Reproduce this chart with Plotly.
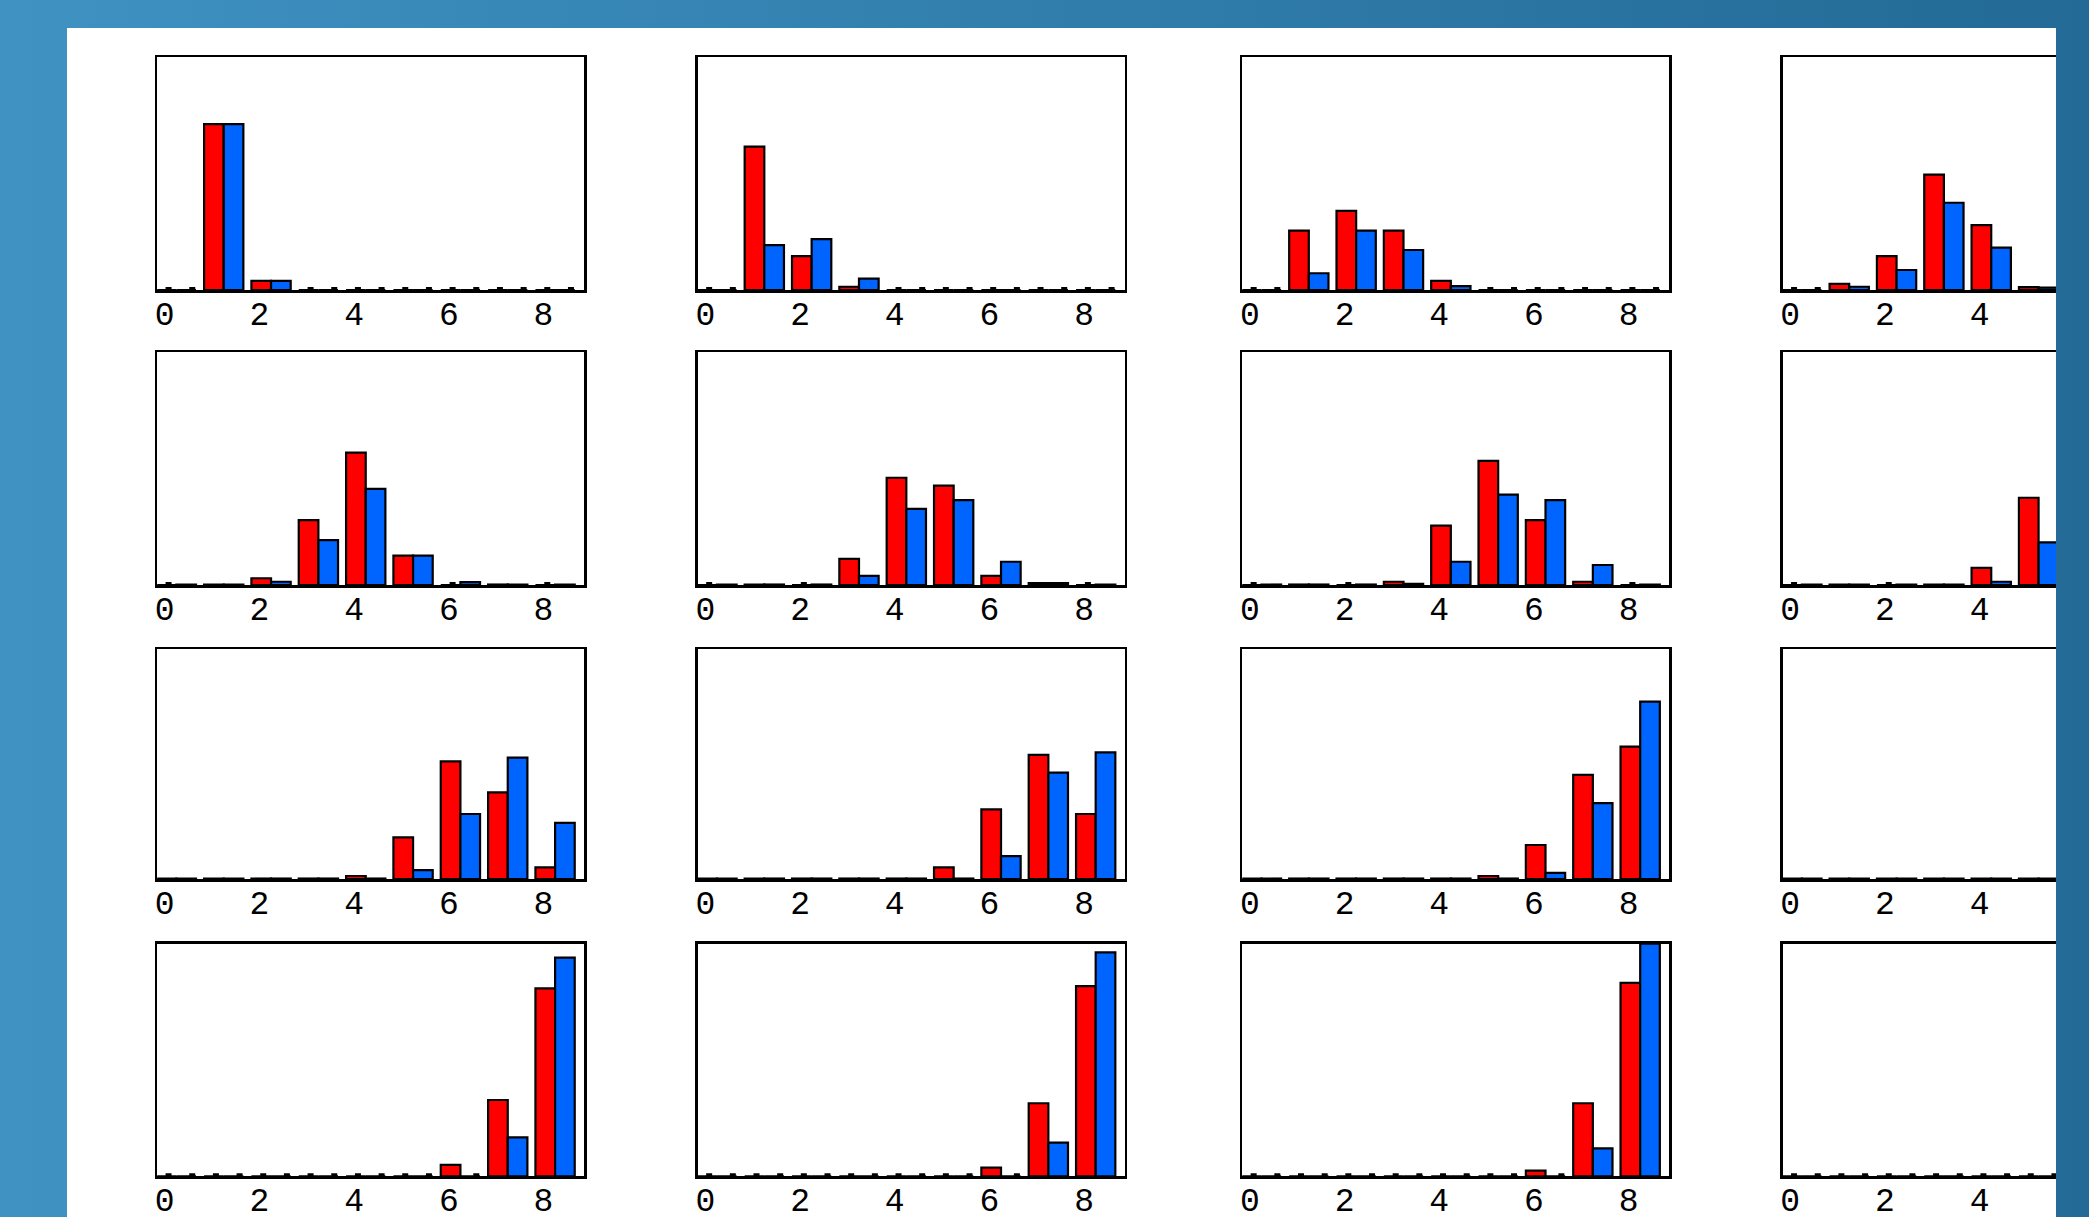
import base64
import plotly.graph_objects as go

# ---------------- data ----------------
bins = [0, 1, 2, 3, 4, 5, 6, 7, 8]
tick_vals = [0, 2, 4, 6, 8]
tick_text = ["0", "2", "4", "6", "8"]
N = None  # bins outside the visible (clipped) area

# row 1
red_11 = [0, 0.713, 0.039, 0, 0, 0, 0, 0, 0]
blue_11 = [0, 0.713, 0.039, 0, 0, 0, 0, 0, 0]
red_12 = [0, 0.616, 0.146, 0.014, 0, 0, 0, 0, 0]
blue_12 = [0, 0.193, 0.219, 0.049, 0, 0, 0, 0, 0]
red_13 = [0, 0.255, 0.340, 0.255, 0.039, 0, 0, 0, 0]
blue_13 = [0, 0.072, 0.255, 0.172, 0.017, 0, 0, 0, 0]
red_14 = [0, 0.026, 0.146, 0.496, 0.279, 0.012, N, N, N]
blue_14 = [0, 0.014, 0.086, 0.375, 0.182, 0.010, N, N, N]
# row 2
red_21 = [0, 0.002, 0.029, 0.279, 0.569, 0.126, 0, 0.002, 0]
blue_21 = [0.002, 0.002, 0.014, 0.193, 0.413, 0.126, 0.012, 0.002, 0.002]
red_22 = [0, 0.002, 0, 0.112, 0.461, 0.427, 0.039, 0.008, 0]
blue_22 = [0.002, 0.002, 0.002, 0.039, 0.327, 0.365, 0.100, 0.008, 0.002]
red_23 = [0, 0.002, 0, 0.014, 0.255, 0.533, 0.279, 0.014, 0]
blue_23 = [0.002, 0.002, 0.002, 0.005, 0.100, 0.388, 0.365, 0.086, 0.002]
red_24 = [0, 0.002, 0, 0.002, 0.074, 0.375, N, N, N]
blue_24 = [0.002, 0.002, 0.002, 0.002, 0.014, 0.183, N, N, N]
# row 3
red_31 = [0.002, 0.002, 0.002, 0.002, 0.013, 0.181, 0.512, 0.377, 0.051]
blue_31 = [0.002, 0.002, 0.002, 0.002, 0.002, 0.039, 0.283, 0.528, 0.244]
red_32 = [0.002, 0.002, 0.002, 0.002, 0.002, 0.051, 0.303, 0.540, 0.283]
blue_32 = [0.002, 0.002, 0.002, 0.002, 0.002, 0.002, 0.100, 0.463, 0.551]
red_33 = [0.002, 0.002, 0.002, 0.002, 0.002, 0.013, 0.148, 0.453, 0.576]
blue_33 = [0.002, 0.002, 0.002, 0.002, 0.002, 0.002, 0.027, 0.330, 0.772]
red_34 = [0.002, 0.002, 0.002, 0.002, 0.002, 0.002, N, N, N]
blue_34 = [0.002, 0.002, 0.002, 0.002, 0.002, 0.002, N, N, N]
# row 4
red_41 = [0, 0, 0, 0, 0, 0, 0.049, 0.328, 0.808]
blue_41 = [0, 0, 0, 0, 0, 0, 0, 0.167, 0.940]
red_42 = [0, 0, 0, 0, 0, 0, 0.037, 0.314, 0.818]
blue_42 = [0, 0, 0, 0, 0, 0, 0, 0.145, 0.963]
red_43 = [0, 0, 0, 0, 0, 0, 0.024, 0.314, 0.832]
blue_43 = [0, 0, 0, 0, 0, 0, 0, 0.120, 1.000]
red_44 = [0, 0, 0, 0, 0, 0, N, N, N]
blue_44 = [0, 0, 0, 0, 0, 0, N, N, N]

panels = [
    [(red_11, blue_11), (red_12, blue_12), (red_13, blue_13), (red_14, blue_14)],
    [(red_21, blue_21), (red_22, blue_22), (red_23, blue_23), (red_24, blue_24)],
    [(red_31, blue_31), (red_32, blue_32), (red_33, blue_33), (red_34, blue_34)],
    [(red_41, blue_41), (red_42, blue_42), (red_43, blue_43), (red_44, blue_44)],
]

# ---------------- layout geometry ----------------
W, H = 2089, 1217
col_left = [157.2, 697.8, 1242.3, 1782.7]
col_width = 427.0
panel_right = 2056.0           # white page ends here, 4th column is cut off
row_top = [57.3, 352.3, 649.3, 943.7]
row_bottom = [290.0, 585.0, 879.0, 1176.3]
x_lo, x_hi = -0.16, 8.86
px_per_unit = col_width / (x_hi - x_lo)

RED = "#ff0000"
BLUE = "#0064ff"
red_off, blue_off, bar_w = -0.17, 0.245, 0.415

fig = go.Figure()
layout_axes = {}
for r in range(4):
    for c in range(4):
        i = r * 4 + c + 1
        xa = "x" if i == 1 else f"x{i}"
        ya = "y" if i == 1 else f"y{i}"
        red, blue = panels[r][c]
        for vals, col, off in ((red, RED, red_off), (blue, BLUE, blue_off)):
            fig.add_trace(go.Bar(
                x=bins, y=vals, offset=off, width=bar_w,
                marker=dict(color=col, line=dict(color="black", width=2.2)),
                xaxis=xa, yaxis=ya, showlegend=False, hoverinfo="skip"))
        # small outline dots of empty (zero) bins
        dx, dy = [], []
        for k, v in zip(bins, red):
            if v == 0:
                dx.append(k + 0.08); dy.append(0)
        for k, v in zip(bins, blue):
            if v == 0:
                dx.append(k + 0.58); dy.append(0)
        if dx:
            fig.add_trace(go.Scatter(
                x=dx, y=dy, mode="markers",
                marker=dict(symbol="square", size=6, color="black"),
                xaxis=xa, yaxis=ya, showlegend=False, hoverinfo="skip"))

        x0 = col_left[c]
        if c < 3:
            x1 = x0 + col_width
            xr = [x_lo, x_hi]
        else:
            x1 = panel_right
            xr = [x_lo, x_lo + (x1 - x0) / px_per_unit]
        xkey = "xaxis" if i == 1 else f"xaxis{i}"
        ykey = "yaxis" if i == 1 else f"yaxis{i}"
        layout_axes[xkey] = dict(
            domain=[x0 / W, x1 / W], range=xr, anchor=ya, automargin=False,
            tickmode="array", tickvals=tick_vals, ticktext=tick_text,
            showgrid=False, zeroline=False, showline=True, mirror=True,
            linecolor="black", linewidth=2.5,
            ticks="", ticklen=0, ticklabelstandoff=-7,
            tickfont=dict(family="Liberation Mono", size=33, color="black"),
            fixedrange=True)
        layout_axes[ykey] = dict(
            domain=[1 - row_bottom[r] / H, 1 - row_top[r] / H], range=[0, 1],
            anchor=xa, automargin=False, showgrid=False, zeroline=False,
            showticklabels=False, showline=True, mirror=(c < 3),
            linecolor="black", linewidth=2.5, ticks="", fixedrange=True)

svg = ("<svg xmlns='http://www.w3.org/2000/svg' width='2089' height='1217'>"
       "<defs><linearGradient id='g' x1='0' y1='0' x2='1' y2='0'>"
       "<stop offset='0' stop-color='#3f92c2'/><stop offset='1' stop-color='#236a96'/>"
       "</linearGradient></defs><rect width='2089' height='1217' fill='url(#g)'/></svg>")
bg_src = "data:image/svg+xml;base64," + base64.b64encode(svg.encode()).decode()

fig.update_layout(
    width=W, height=H, autosize=False,
    margin=dict(l=0, r=0, t=0, b=0, pad=0, autoexpand=False),
    paper_bgcolor="#2f7fae", plot_bgcolor="rgba(0,0,0,0)",
    barmode="overlay", showlegend=False,
    images=[dict(source=bg_src, xref="paper", yref="paper", x=0, y=1,
                 sizex=1, sizey=1, xanchor="left", yanchor="top",
                 sizing="stretch", layer="below")],
    shapes=[dict(type="rect", xref="paper", yref="paper",
                 x0=67 / W, x1=panel_right / W, y0=-0.01, y1=1 - 28 / H,
                 fillcolor="white", line=dict(width=0), layer="below")],
    **layout_axes)

fig.write_html("out.html", config={"displayModeBar": False, "staticPlot": True},
               post_script="document.body.style.margin='0';document.body.style.overflow='hidden';")
